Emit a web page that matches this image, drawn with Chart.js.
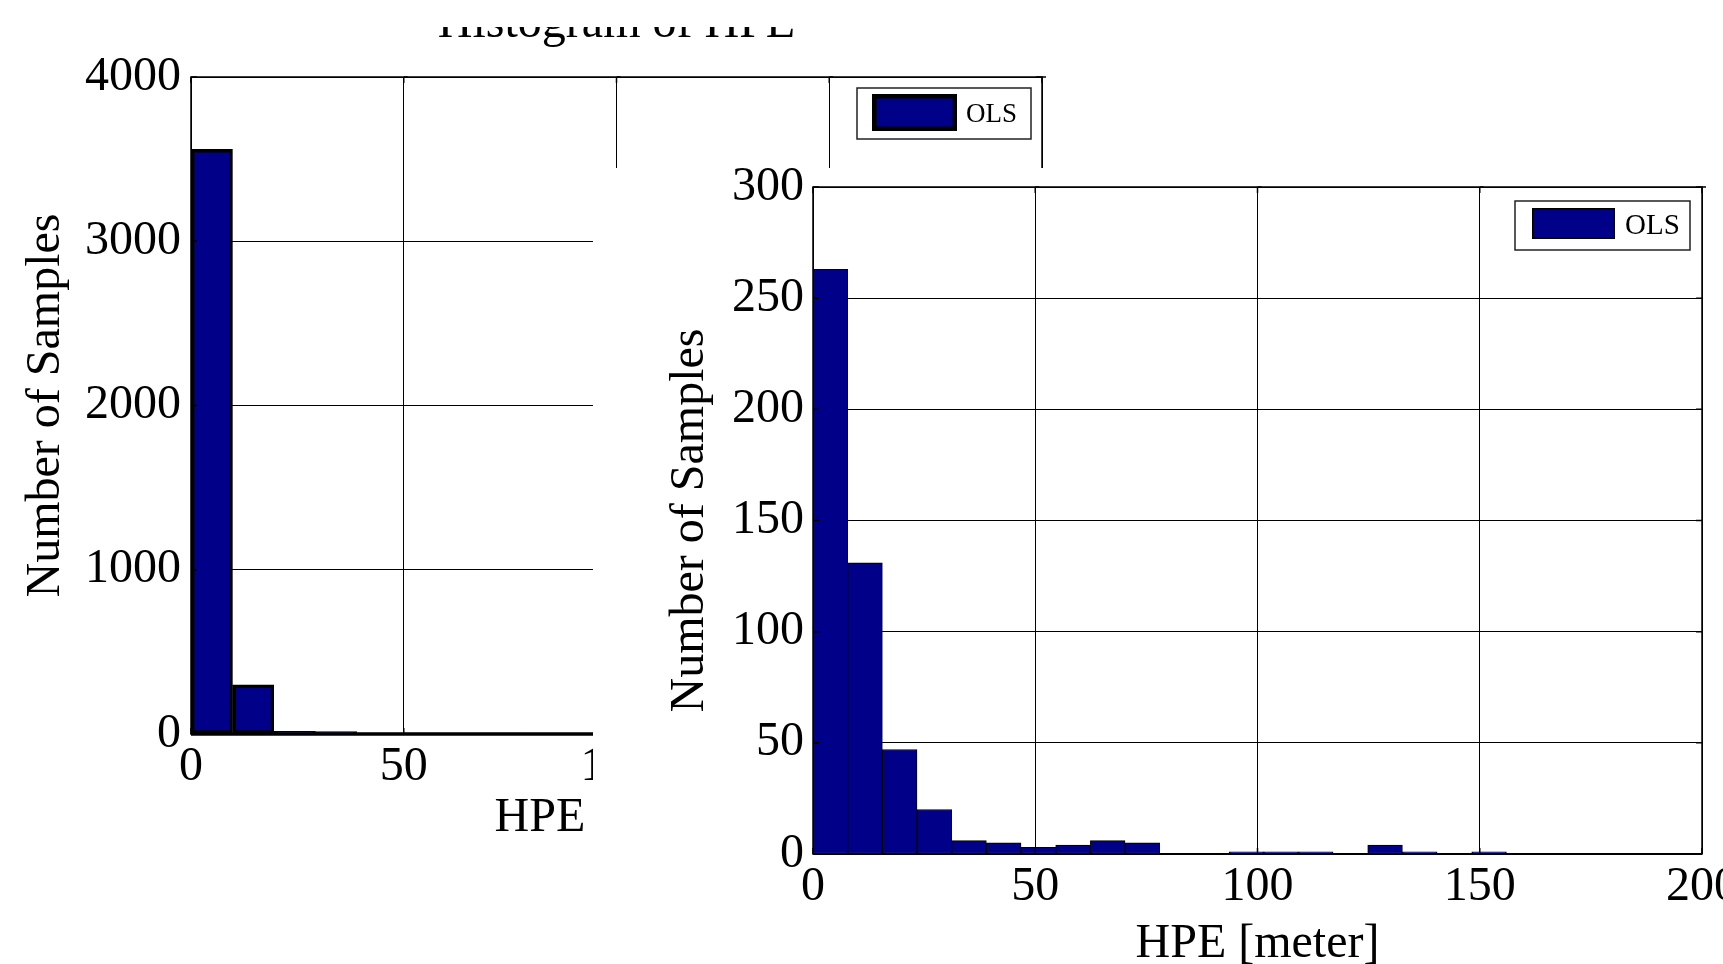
<!DOCTYPE html>
<html>
<head>
<meta charset="utf-8">
<script src="https://cdn.jsdelivr.net/npm/chart.js@4.4.0/dist/chart.umd.min.js"></script>
<style>
  html, body { margin: 0; padding: 0; background: #fff; }
  body { width: 1723px; height: 964px; position: relative; overflow: hidden; }
  #left { position: absolute; left: 0; top: 0; }
  #cover { position: absolute; left: 0; top: 0; width: 1723px; height: 27px; background: #fff; }
  #rightBox { position: absolute; left: 593px; top: 168px; width: 1130px; height: 796px; overflow: hidden; background: #fff; }
  #right { position: absolute; left: 0; top: -30px; }
</style>
</head>
<body>
<canvas id="left" width="1723" height="964"></canvas>
<div id="cover"></div>
<div id="rightBox"><canvas id="right" width="1180" height="826"></canvas></div>
<script>
// back figure: all samples, bins of ~9.75 m
const binsAll = [4.9, 14.6, 24.4, 34.1, 43.9, 53.6, 63.4, 73.1, 82.9, 92.6,
                 102.4, 112.1, 121.9, 131.6, 141.4, 151.1, 160.9, 170.6, 180.4, 190.1];
const countsAll = [3560, 300, 16, 14, 6, 5, 4, 6, 3, 2, 2, 1, 1, 3, 1, 1, 0, 0, 0, 1];

// front figure: bins of 7.8 m
const binsZoom = [3.9, 11.7, 19.5, 27.3, 35.1, 42.9, 50.7, 58.5, 66.3, 74.1,
                  81.9, 89.7, 97.5, 105.3, 113.1, 120.9, 128.7, 136.5, 144.3, 152.1];
const countsZoom = [263, 131, 47, 20, 6, 5, 3, 4, 6, 5, 0, 0, 1, 1, 1, 0, 4, 1, 0, 1];

const seriesName = 'OLS';
const xTitle = 'HPE [meter]';
const yTitle = 'Number of Samples';
const chartTitle = 'Histogram of HPE';

Chart.defaults.font.family = '"Liberation Serif", "Times New Roman", serif';
Chart.defaults.color = '#000';

// matlab style box, inner ticks and legend
const matlabBox = {
  id: 'matlabBox',
  afterDatasetsDraw(chart, args, opts) {
    const {ctx, chartArea: a, scales} = chart;
    ctx.save();
    ctx.strokeStyle = '#000';
    ctx.lineWidth = 1.5;
    ctx.beginPath();
    scales.x.ticks.forEach(t => {
      const px = scales.x.getPixelForValue(t.value);
      ctx.moveTo(px, a.top); ctx.lineTo(px + 4, a.top);
      ctx.moveTo(px, a.top); ctx.lineTo(px, a.top + 6);
      ctx.moveTo(px, a.bottom); ctx.lineTo(px, a.bottom - 6);
    });
    scales.y.ticks.forEach(t => {
      const py = scales.y.getPixelForValue(t.value);
      ctx.moveTo(a.left, py); ctx.lineTo(a.left + 6, py);
      ctx.moveTo(a.right, py); ctx.lineTo(a.right - 6, py);
    });
    ctx.stroke();
    ctx.lineWidth = opts.frameWidth;
    ctx.strokeRect(a.left, a.top, a.right - a.left, a.bottom - a.top);
    ctx.lineWidth = opts.baseWidth;
    ctx.beginPath();
    ctx.moveTo(a.left, a.bottom);
    ctx.lineTo(a.right, a.bottom);
    ctx.stroke();
    ctx.restore();
  },
  afterDraw(chart, args, opts) {
    const {ctx, chartArea: a} = chart;
    const lg = opts.legend;
    const ds = chart.data.datasets[0];
    const x0 = a.right - lg.right - lg.width;
    const y0 = a.top + lg.top;
    ctx.save();
    ctx.fillStyle = '#fff';
    ctx.fillRect(x0, y0, lg.width, lg.height);
    ctx.strokeStyle = '#222';
    ctx.lineWidth = 1.5;
    ctx.strokeRect(x0, y0, lg.width, lg.height);
    ctx.fillStyle = ds.backgroundColor;
    ctx.fillRect(x0 + lg.swX, y0 + lg.swY, lg.swW, lg.swH);
    ctx.strokeStyle = '#000';
    ctx.lineWidth = lg.swBorder;
    const h = lg.swBorder / 2;
    ctx.strokeRect(x0 + lg.swX + h, y0 + lg.swY + h, lg.swW - lg.swBorder, lg.swH - lg.swBorder);
    ctx.fillStyle = '#000';
    ctx.font = lg.fontSize + 'px "Liberation Serif"';
    ctx.textBaseline = 'middle';
    ctx.fillText(ds.label, x0 + lg.textX, y0 + lg.height / 2 + 1);
    ctx.restore();
  }
};

function makeChart(id, bins, counts, cfg) {
  const pts = bins.map((b, i) => ({x: b, y: counts[i]}));
  return new Chart(document.getElementById(id), {
    type: 'bar',
    data: {
      datasets: [{
        label: seriesName,
        data: pts,
        backgroundColor: '#000088',
        borderColor: '#000',
        borderWidth: cfg.barBorder,
        borderSkipped: false,
        barPercentage: 1,
        categoryPercentage: 1
      }]
    },
    options: {
      responsive: false,
      animation: false,
      devicePixelRatio: 1,
      layout: { padding: cfg.padding },
      scales: {
        x: {
          type: 'linear',
          min: 0, max: 200,
          offset: false,
          grid: { offset: false, color: '#000', lineWidth: 1, drawTicks: false },
          border: { display: false },
          ticks: { stepSize: 50, padding: 5, font: { size: 48 }, callback: v => String(v) },
          title: { display: true, text: xTitle, font: { size: 48, lineHeight: 1 },
                   padding: { top: 0, bottom: cfg.xTitlePad } },
          afterFit: s => { s.height = cfg.xHeight; }
        },
        y: {
          min: 0, max: cfg.yMax,
          grid: { color: '#000', lineWidth: 1, drawTicks: false },
          border: { display: false },
          ticks: { stepSize: cfg.yStep, padding: cfg.yTickPad, font: { size: 48 }, callback: v => String(v) },
          title: { display: true, text: yTitle, font: { size: 48, lineHeight: 1 },
                   padding: { top: cfg.yTitlePad, bottom: 0 } },
          afterFit: s => { s.width = cfg.yWidth; }
        }
      },
      plugins: {
        legend: { display: false },
        tooltip: { enabled: false },
        title: cfg.title,
        matlabBox: { frameWidth: 1.5, baseWidth: cfg.baseWidth, legend: cfg.legend }
      }
    },
    plugins: [matlabBox]
  });
}

// back chart (whole page)
makeChart('left', binsAll, countsAll, {
  barBorder: 3.5,
  baseWidth: 3.5,
  padding: { left: 0, right: 681, top: 0, bottom: 0 },
  xHeight: 230, xTitlePad: 122,
  yMax: 4000, yStep: 1000, yTickPad: 10, yTitlePad: 22, yWidth: 191,
  title: { display: true, text: chartTitle, fullSize: false,
           font: { size: 48, weight: 'normal', lineHeight: 1 },
           padding: { top: 0, bottom: 29 } },
  legend: { right: 11, top: 11, width: 174, height: 51,
            swX: 15, swY: 6, swW: 85, swH: 37, swBorder: 4.5, textX: 109, fontSize: 27 }
});

// front chart
makeChart('right', binsZoom, countsZoom, {
  barBorder: 1,
  baseWidth: 2,
  padding: { left: 0, right: 71, top: 49, bottom: 0 },
  xHeight: 110, xTitlePad: -4,
  yMax: 300, yStep: 50, yTickPad: 9, yTitlePad: 73, yWidth: 220,
  title: { display: false },
  legend: { right: 12, top: 14, width: 175, height: 49,
            swX: 17, swY: 7, swW: 83, swH: 31, swBorder: 1.5, textX: 110, fontSize: 29 }
});
</script>
</body>
</html>
